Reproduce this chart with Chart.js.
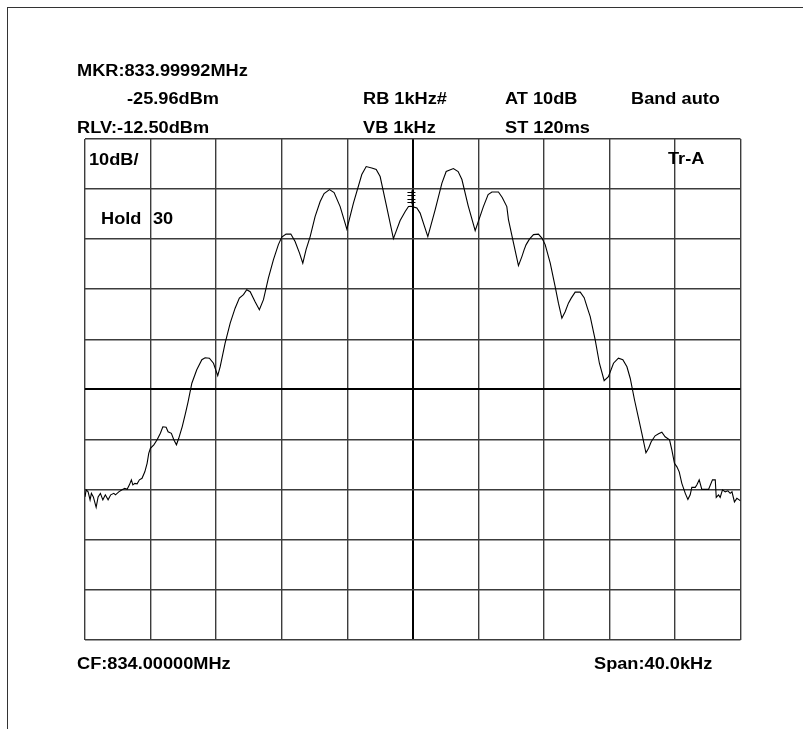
<!DOCTYPE html>
<html>
<head>
<meta charset="utf-8">
<script src="https://cdn.jsdelivr.net/npm/chart.js@4.4.1/dist/chart.umd.min.js"></script>
<style>
  html, body { margin: 0; padding: 0; background: #fff; }
  #wrap { width: 803px; height: 729px; }
</style>
</head>
<body>
<div id="wrap"><canvas id="sa" width="803" height="729"></canvas></div>
<script>
// trace: offset from centre frequency (kHz) and level (dBm)
var freqKHz = [
  -20.0, -19.93, -19.81, -19.69, -19.61, -19.49, -19.32, -19.20, -19.06, -18.91,
  -18.76, -18.59, -18.43, -18.24, -18.14, -17.94, -17.74, -17.57, -17.43, -17.29,
  -17.17, -17.08, -16.96, -16.82, -16.68, -16.52, -16.35, -16.21, -16.11, -16.01,
  -15.80, -15.60, -15.40, -15.25, -15.05, -14.93, -14.73, -14.58, -14.42, -14.28,
  -14.07, -13.87, -13.71, -13.48, -13.18, -12.87, -12.67, -12.41, -12.16, -11.90,
  -11.75, -11.45, -11.14, -10.84, -10.58, -10.33, -10.13, -9.92, -9.62, -9.36,
  -9.11, -8.81, -8.50, -8.20, -7.99, -7.73, -7.44, -7.18, -6.91, -6.71,
  -6.51, -6.26, -5.96, -5.65, -5.41, -5.08, -4.80, -4.43, -4.02, -3.62,
  -3.11, -2.84, -2.50, -2.23, -1.99, -1.62, -1.18, -0.77, -0.46, -0.26,
  -0.08, 0.25, 0.45, 0.92, 1.37, 1.78, 2.04, 2.48, 2.77, 3.00,
  3.38, 3.81, 4.31, 4.60, 4.83, 5.23, 5.46, 5.74, 5.84, 6.15,
  6.45, 6.66, 6.80, 6.92, 7.12, 7.37, 7.67, 7.88, 8.08, 8.39,
  8.69, 8.89, 9.10, 9.30, 9.50, 9.67, 9.91, 10.22, 10.46, 10.66,
  10.83, 11.13, 11.39, 11.68, 11.94, 12.25, 12.55, 12.82, 13.07, 13.27,
  13.53, 13.78, 13.98, 14.23, 14.39, 14.55, 14.79, 15.00, 15.20, 15.40,
  15.67, 15.81, 15.97, 16.12, 16.26, 16.42, 16.63, 16.79, 16.93, 17.03,
  17.24, 17.34, 17.48, 17.64, 17.85, 18.05, 18.29, 18.46, 18.52, 18.66,
  18.76, 18.90, 19.07, 19.23, 19.37, 19.48, 19.63, 19.78, 19.92, 20.0
];
var levelDBm = [
  -84.0, -82.6, -83.0, -84.6, -83.3, -84.0, -86.1, -84.0, -83.3, -84.6,
  -83.6, -84.6, -83.6, -83.3, -83.6, -83.0, -82.6, -82.3, -82.5, -81.6,
  -80.6, -81.6, -81.3, -81.4, -80.6, -80.3, -79.0, -77.3, -75.3, -74.3,
  -73.6, -72.6, -71.3, -70.0, -70.1, -71.0, -71.3, -72.6, -73.6, -72.3,
  -70.0, -67.3, -65.0, -61.3, -58.6, -56.6, -56.2, -56.3, -57.3, -59.8,
  -58.0, -53.3, -49.3, -46.3, -44.3, -43.6, -42.6, -43.0, -45.0, -46.6,
  -44.6, -40.3, -36.6, -33.6, -32.1, -31.5, -31.5, -33.0, -35.3, -37.3,
  -34.6, -32.0, -28.0, -25.0, -23.4, -22.6, -23.2, -26.0, -30.5, -25.3,
  -19.6, -18.0, -18.3, -18.6, -20.0, -25.6, -32.4, -28.8, -27.0, -26.0,
  -25.96, -26.3, -27.3, -32.0, -26.6, -21.3, -19.0, -18.4, -19.0, -20.6,
  -25.8, -30.8, -26.0, -23.6, -23.1, -23.1, -24.2, -26.0, -28.6, -33.3,
  -37.8, -36.0, -34.6, -33.6, -32.5, -31.6, -31.5, -32.3, -33.6, -37.3,
  -42.0, -45.3, -48.3, -47.0, -45.3, -44.3, -43.1, -43.1, -44.2, -46.3,
  -48.0, -52.6, -57.3, -60.8, -60.0, -57.3, -56.3, -56.6, -58.0, -60.3,
  -64.6, -68.3, -71.3, -75.2, -74.3, -73.0, -71.8, -71.4, -71.1, -72.0,
  -72.6, -74.6, -77.3, -78.0, -79.0, -81.3, -83.3, -84.5, -83.6, -82.1,
  -82.1, -81.6, -80.6, -82.5, -82.5, -82.5, -80.6, -80.6, -84.1, -83.6,
  -84.1, -82.6, -83.0, -82.8, -83.3, -83.0, -85.0, -84.3, -84.6, -84.8
];

// screen: 40 kHz span, ref level -12.5 dBm, 10 dB/div
var spanKHz = 40;
var refLevel = -12.5;
var dbPerDiv = 10;
var xGrid = [-20, -16, -12, -8, -4, 0, 4, 8, 12, 16, 20];
var yGrid = [-112.5, -102.5, -92.5, -82.5, -72.5, -62.5, -52.5, -42.5, -32.5, -22.5, -12.5];
var markerKHz = -0.08;
var markerDBm = -25.96;

// annotation texts [text, x, y]
var headerTexts = [
  ['MKR:833.99992MHz', 77, 71],
  ['-25.96dBm', 127, 99],
  ['RB 1kHz#', 363, 99],
  ['AT 10dB', 505, 99],
  ['Band auto', 631, 99],
  ['RLV:-12.50dBm', 77, 128],
  ['VB 1kHz', 363, 128],
  ['ST 120ms', 505, 128],
  ['10dB/', 89, 160],
  ['Hold', 101, 219],
  ['30', 153, 219],
  ['Tr-A', 668, 159],
  ['CF:834.00000MHz', 77, 664],
  ['Span:40.0kHz', 594, 664]
];

var points = freqKHz.map(function (f, i) { return { x: f, y: levelDBm[i] }; });

var screenPlugin = {
  id: 'screen',
  beforeDraw: function (chart) {
    var ctx = chart.ctx;
    ctx.save();
    ctx.strokeStyle = '#333';
    ctx.lineWidth = 1;
    ctx.strokeRect(7.5, 7.5, 1000, 1000);
    ctx.restore();
  },
  afterDraw: function (chart) {
    var ctx = chart.ctx;
    ctx.save();
    ctx.fillStyle = '#000';
    ctx.font = 'bold 17px "Liberation Sans", Arial, sans-serif';
    ctx.textBaseline = 'middle';
    headerTexts.forEach(function (t) {
      ctx.save();
      ctx.translate(t[1], t[2]);
      ctx.scale(1.07, 1.02);
      ctx.fillText(t[0], 0, 0);
      ctx.restore();
    });
    // marker symbol
    var mx = chart.scales.x.getPixelForValue(markerKHz);
    var my = chart.scales.y.getPixelForValue(markerDBm);
    ctx.strokeStyle = '#000';
    ctx.lineWidth = 1;
    ctx.beginPath();
    for (var k = 0; k < 4; k++) {
      var yy = Math.round(my - 4 - k * 3.5) + 0.5;
      ctx.moveTo(mx - 4, yy);
      ctx.lineTo(mx + 4, yy);
    }
    ctx.moveTo(mx + 0.5, my - 2);
    ctx.lineTo(mx + 0.5, my - 16);
    ctx.stroke();
    ctx.restore();
  }
};

function isCentre(c) {
  return c.tick && c.tick.value === (c.scale.axis === 'x' ? 0 : -62.5);
}

new Chart(document.getElementById('sa').getContext('2d'), {
  type: 'line',
  data: {
    datasets: [{
      data: points,
      borderColor: '#000',
      borderWidth: 1.1,
      pointRadius: 0,
      tension: 0,
      fill: false
    }]
  },
  options: {
    responsive: false,
    animation: false,
    layout: { padding: { left: 85, top: 139, right: 62.5, bottom: 89.5 } },
    plugins: { legend: { display: false }, tooltip: { enabled: false } },
    scales: {
      x: {
        type: 'linear',
        min: -spanKHz / 2,
        max: spanKHz / 2,
        afterBuildTicks: function (s) { s.ticks = xGrid.map(function (v) { return { value: v }; }); },
        ticks: { display: false },
        grid: {
          color: function (c) { return isCentre(c) ? '#000' : '#3c3c3c'; },
          lineWidth: function (c) { return isCentre(c) ? 2 : 1.4; },
          drawTicks: false
        },
        border: { display: false }
      },
      y: {
        min: refLevel - dbPerDiv * 10,
        max: refLevel,
        afterBuildTicks: function (s) { s.ticks = yGrid.map(function (v) { return { value: v }; }); },
        ticks: { display: false },
        grid: {
          color: function (c) { return isCentre(c) ? '#000' : '#3c3c3c'; },
          lineWidth: function (c) { return isCentre(c) ? 2 : 1.4; },
          drawTicks: false
        },
        border: { display: false }
      }
    }
  },
  plugins: [screenPlugin]
});
</script>
</body>
</html>
